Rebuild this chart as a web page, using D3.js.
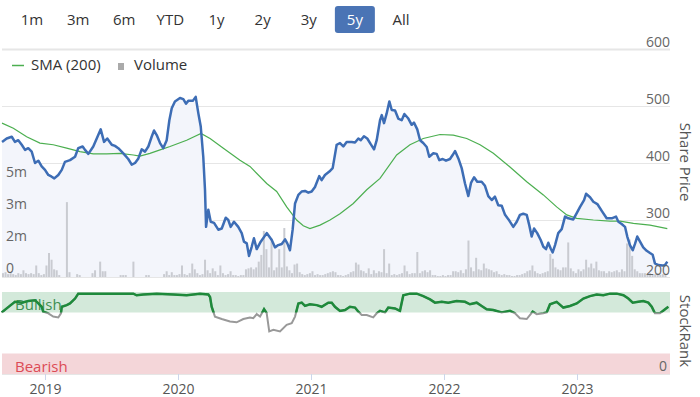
<!DOCTYPE html>
<html>
<head>
<meta charset="utf-8">
<script src="https://cdnjs.cloudflare.com/ajax/libs/d3/7.8.5/d3.min.js"></script>
<style>
  body { margin: 0; background: #fff; }
  text { font-family: "Open Sans", sans-serif; }
</style>
</head>
<body>
<div id="chart"></div>
<script>
var svgWidth = 700;
var svgHeight = 397;

// range buttons
var buttons = ["1m", "3m", "6m", "YTD", "1y", "2y", "3y", "5y", "All"];
var activeButton = "5y";

// x axis years
var years = [2019, 2020, 2021, 2022, 2023];

// share price (decimal year, pence)
var priceT = [2018.677,2018.712,2018.750,2018.774,2018.799,2018.825,2018.850,2018.874,2018.900,2018.925,2018.950,2018.975,
  2019.000,2019.025,2019.050,2019.070,2019.100,2019.126,2019.150,2019.188,2019.226,2019.250,2019.283,2019.301,2019.326,
  2019.363,2019.389,2019.419,2019.444,2019.468,2019.502,2019.526,2019.551,2019.589,2019.626,2019.652,2019.677,2019.702,
  2019.727,2019.752,2019.777,2019.802,2019.820,2019.840,2019.865,2019.889,2019.915,2019.935,2019.953,2019.977,
  2020.015,2020.040,2020.060,2020.077,2020.111,2020.133,2020.153,2020.171,2020.190,2020.203,2020.211,2020.228,2020.246,
  2020.271,2020.303,2020.329,2020.359,2020.378,2020.396,2020.421,2020.453,2020.479,2020.496,2020.517,2020.534,2020.554,
  2020.571,2020.592,2020.622,2020.667,2020.705,2020.729,2020.754,2020.780,2020.805,2020.822,2020.842,2020.862,2020.880,
  2020.905,2020.930,2020.955,2020.980,
  2021.005,2021.030,2021.062,2021.080,2021.105,2021.138,2021.163,2021.193,2021.218,2021.243,2021.268,2021.306,2021.331,
  2021.356,2021.374,2021.398,2021.423,2021.449,2021.474,2021.494,2021.519,2021.532,2021.549,2021.569,2021.589,2021.607,
  2021.632,2021.656,2021.682,2021.702,2021.732,2021.757,2021.774,2021.799,2021.820,2021.844,2021.870,2021.889,2021.920,
  2021.945,2021.965,2021.990,
  2022.015,2022.045,2022.065,2022.083,2022.108,2022.133,2022.158,2022.183,2022.203,2022.226,2022.250,2022.283,2022.308,
  2022.333,2022.359,2022.383,2022.408,2022.434,2022.459,2022.491,2022.521,2022.547,2022.571,2022.596,2022.622,2022.641,
  2022.659,2022.677,2022.701,2022.727,2022.747,2022.767,2022.784,2022.802,2022.817,2022.835,2022.859,2022.885,2022.910,
  2022.935,2022.972,2022.998,
  2023.023,2023.053,2023.068,2023.098,2023.123,2023.153,2023.186,2023.223,2023.261,2023.293,2023.311,2023.336,2023.361,
  2023.378,2023.398,2023.419,2023.436,2023.453,2023.474,2023.498,2023.524,2023.549,2023.569,2023.586,2023.611,2023.644,
  2023.662,2023.679];
var priceV = [437,443,446,437,440,432,423,426,420,400,404,394,
  388,379,376,373,379,388,402,405,411,426,429,423,416,
  429,443,459,437,443,432,430,426,417,407,397,400,408,
  424,420,429,446,457,449,435,426,440,475,496,508,
  514,512,504,509,509,516,487,464,411,353,288,318,297,
  295,283,285,304,300,288,297,288,277,262,259,237,253,
  268,249,262,277,265,252,256,258,266,259,247,283,329,
  344,350,351,348,
  350,358,377,370,379,385,391,432,435,429,437,437,436,
  443,440,447,443,433,424,440,475,484,470,487,508,493,
  492,478,475,486,478,467,471,459,440,435,428,411,417,
  416,405,407,
  404,407,414,421,408,391,364,342,365,375,367,367,360,
  342,335,341,326,325,309,299,288,297,309,311,309,291,
  271,285,277,265,253,249,260,250,243,256,277,284,306,
  303,301,312,
  323,335,346,340,332,328,316,303,303,306,297,293,288,
  271,256,247,258,271,262,252,246,242,239,224,221,220,
  221,227];

// SMA (200)
var smaT = [2018.677,2018.762,2018.862,2018.962,2019.062,2019.163,2019.263,2019.363,2019.464,2019.564,2019.664,2019.714,
  2019.789,2019.865,2019.940,2020.065,2020.173,2020.241,2020.341,2020.466,2020.541,2020.667,2020.742,2020.817,2020.892,
  2020.942,2020.992,2021.068,2021.143,2021.218,2021.318,2021.419,2021.519,2021.644,2021.744,2021.844,2021.970,2022.070,
  2022.171,2022.271,2022.371,2022.496,2022.622,2022.747,2022.847,2022.923,2022.998,2023.123,2023.248,2023.323,2023.424,
  2023.549,2023.679];
var smaV = [470,461,446,435,432,426,420,416,416,417,414,412,
  417,423,429,440,452,443,426,405,394,364,350,323,300,
  290,285,291,300,311,329,353,373,414,432,443,450,449,
  443,432,417,393,367,344,323,309,303,300,298,298,294,
  291,285];

// weekly volume (millions), first bar at volStart
var volStart = 2018.684;
var volM = [0.2,0.25,0.15,0.2,0.15,0.1,0.2,0.15,0.35,0.2,
  0.15,0.2,0.15,0.6,0.2,0.1,0.15,0.6,1.25,0.9,
  0.4,0.35,0.1,0,0,3.9,0.25,0,0,0.15,
  0.1,0,0,0,0,0.2,0.35,0,0.8,0.3,
  0.3,0,0,0,0,0,0.1,0.1,0.1,0,
  0,0.8,0,0,0,0,0.1,0.1,0,0,
  0,0,0,0.15,0.3,0.1,0.25,0.1,0.1,0.15,
  0.6,0.15,0.1,0.2,0.7,0.4,0.2,0.1,0.15,0.9,
  0.35,0.2,0.45,0.3,0.1,0.6,0.2,0.1,0.15,0.3,
  0.1,0.1,0.05,0.1,0.1,0.4,0.45,0.5,0.4,0.5,
  0.8,1.15,2.4,1.45,0.5,2.0,0.35,0.5,1.45,0.5,
  2.55,0.55,0.35,0.2,0.65,0.7,0.25,0.15,0.1,0.15,
  0.2,0.3,0.1,0.15,0.1,0.1,0.15,0.2,0.25,0.3,
  0.25,0.1,0.1,0.05,0.1,0.15,0.25,0.3,0.75,0.65,
  0.35,0.3,0.2,0.45,0.15,0.35,0.2,0.3,0.25,1.45,
  0.2,0.7,0.1,0.15,0.1,0.15,0.2,0.6,0.3,0.15,
  0.2,0.2,1.3,0.2,0.3,0.35,0.25,0.35,0.1,0.1,
  0.05,0.05,0.1,0.05,0.1,0.1,0.3,0.3,0.25,0.35,
  0.2,0.4,1.9,0.5,0.3,1.0,0.4,0.35,0.7,0.45,
  0.4,0.35,0.25,0.3,0.15,0.1,0.15,0.1,0.1,0.05,
  0.05,0.1,0.1,0.15,0.2,0.3,0.35,0.6,0.3,0.2,
  0.15,0.2,0.25,0.3,1.2,0.95,0.5,0.4,0.35,0.5,
  0.5,1.8,0.45,0.3,0.2,0.4,0.3,0.4,0.9,0.5,
  0.7,0.45,0.8,0.35,0.3,0.3,0.2,0.3,0.25,0.3,
  0.35,0.25,0.4,0.3,1.75,1.95,1.1,0.4,0.3,0.2,
  0.2,0.2,0.15,0.2,0.1,0.15,0.2,0.1,0.15,0.1];
var volTicks = [0, 5 / 3, 10 / 3, 5];

// StockRank
var rankT = [2018.674,2018.712,2018.774,2018.825,2018.874,2018.925,2018.950,2018.975,2018.987,2019.025,2019.062,2019.100,
  2019.120,2019.126,2019.163,2019.188,2019.226,2019.250,2019.314,2019.414,2019.539,2019.664,2019.689,2019.739,2019.840,
  2019.965,2020.065,2020.165,2020.228,2020.241,2020.253,2020.278,2020.329,2020.391,2020.441,2020.491,2020.541,2020.566,
  2020.592,2020.617,2020.647,2020.667,2020.686,2020.717,2020.767,2020.817,2020.855,2020.880,2020.905,2020.930,2020.955,
  2020.992,2021.043,2021.080,2021.130,2021.156,2021.180,2021.218,2021.256,2021.293,2021.331,2021.356,2021.381,2021.419,
  2021.468,2021.494,2021.519,2021.556,2021.581,2021.632,2021.669,2021.694,2021.744,2021.795,2021.844,2021.895,2021.932,
  2021.983,2022.032,2022.095,2022.158,2022.195,2022.246,2022.283,2022.321,2022.371,2022.434,2022.496,2022.534,2022.571,
  2022.622,2022.667,2022.697,2022.747,2022.772,2022.797,2022.847,2022.897,2022.947,2022.998,2023.048,2023.098,2023.148,
  2023.198,2023.248,2023.299,2023.349,2023.386,2023.419,2023.461,2023.498,2023.536,2023.562,2023.586,2023.624,2023.662,
  2023.687];
var rankV = [75,80,88,87,89,90,86,82,76,74,70,69,
  74,82,84,86,92,98,98,98,98,98,96,97,98,
  97,96,98,97,94,82,70,67,64,63,67,69,68,
  73,70,79,74,52,54,52,60,62,70,86,87,83,
  85,84,82,87,87,82,77,78,82,81,76,72,72,
  69,74,77,75,81,80,77,96,98,98,95,91,87,
  88,87,89,88,85,87,83,79,78,75,77,74,68,
  67,76,73,74,75,85,88,81,83,86,92,95,97,
  96,98,98,96,92,87,88,89,87,82,74,74,79,
  82];
var bullishFrom = 75;
var bearishTo = 25;

var plotLeft = 2, plotRight = 670;

var svg = d3.select("#chart")
  .append("svg")
  .attr("width", svgWidth)
  .attr("height", svgHeight);

// ---- range selector
var btnX = d3.scalePoint().domain(buttons).range([32, 401]);

svg.append("rect")
  .attr("x", btnX(activeButton) - 20)
  .attr("y", 6)
  .attr("width", 40)
  .attr("height", 27)
  .attr("rx", 3)
  .attr("fill", "#4a74b5");

svg.selectAll(".btn")
  .data(buttons)
  .enter()
  .append("text")
  .attr("x", d => btnX(d))
  .attr("y", 25)
  .attr("text-anchor", "middle")
  .attr("font-size", "15px")
  .attr("fill", d => d == activeButton ? "#fff" : "#333")
  .text(d => d);

// ---- scales
var x = d3.scaleLinear().domain([2019, 2024]).range([45, 710]);
var yPrice = d3.scaleLinear().domain([200, 600]).range([277, 49]);
var yVol = d3.scaleLinear().domain([0, 5]).range([277, 181]);
var yRank = d3.scaleLinear().domain([0, 100]).range([374, 292]);

// price gridlines
svg.selectAll(".grid")
  .data(yPrice.ticks(4))
  .enter()
  .append("line")
  .attr("x1", plotLeft)
  .attr("x2", plotRight)
  .attr("y1", d => Math.round(yPrice(d)) + 0.5)
  .attr("y2", d => Math.round(yPrice(d)) + 0.5)
  .attr("stroke", "#e6e6e6")
  .attr("stroke-width", d => d == 600 ? 2 : 1);

// price area
var area = d3.area()
  .x((d, i) => x(priceT[i]))
  .y0(yPrice(200))
  .y1(d => yPrice(d));

svg.append("path")
  .datum(priceV)
  .attr("d", area)
  .attr("fill", "#f3f5fb");

// volume bars
svg.selectAll(".vol")
  .data(volM)
  .enter()
  .append("rect")
  .attr("x", (d, i) => x(volStart + i / 52) - 1)
  .attr("y", d => yVol(d))
  .attr("width", 2)
  .attr("height", d => yVol(0) - yVol(d))
  .attr("fill", "#c9cbd1");

// volume labels
svg.selectAll(".volLabel")
  .data(volTicks)
  .enter()
  .append("text")
  .attr("x", 6)
  .attr("y", d => yVol(d) - 4)
  .attr("font-size", "14px")
  .attr("fill", "#666")
  .text(d => d == 0 ? "0" : Math.round(d) + "m");

// SMA
var line = d3.line()
  .x(d => x(d[0]))
  .y(d => yPrice(d[1]));

svg.append("path")
  .datum(d3.zip(smaT, smaV))
  .attr("d", line)
  .attr("fill", "none")
  .attr("stroke", "#4caf50")
  .attr("stroke-width", 1.2);

// price line
svg.append("path")
  .datum(d3.zip(priceT, priceV))
  .attr("d", line)
  .attr("fill", "none")
  .attr("stroke", "#3d6db5")
  .attr("stroke-width", 2.5)
  .attr("stroke-linejoin", "round");

// price axis labels
svg.selectAll(".priceLabel")
  .data(yPrice.ticks(4))
  .enter()
  .append("text")
  .attr("x", plotRight)
  .attr("y", d => yPrice(d) - 2)
  .attr("text-anchor", "end")
  .attr("font-size", "14px")
  .attr("fill", "#666")
  .text(d => d);

// legend
svg.append("line")
  .attr("x1", 12).attr("x2", 24)
  .attr("y1", 65.5).attr("y2", 65.5)
  .attr("stroke", "#4caf50")
  .attr("stroke-width", 1.5);
svg.append("text")
  .attr("x", 31).attr("y", 70)
  .attr("font-size", "15px")
  .attr("fill", "#333")
  .text("SMA (200)");
svg.append("rect")
  .attr("x", 118).attr("y", 63)
  .attr("width", 6).attr("height", 7)
  .attr("fill", "#aaa");
svg.append("text")
  .attr("x", 134).attr("y", 70)
  .attr("font-size", "15px")
  .attr("fill", "#333")
  .text("Volume");

// ---- StockRank panel
svg.append("line")
  .attr("x1", plotLeft).attr("x2", plotRight)
  .attr("y1", yRank(100) + 0.5).attr("y2", yRank(100) + 0.5)
  .attr("stroke", "#e6e6e6");

svg.append("rect")
  .attr("x", plotLeft)
  .attr("y", yRank(100))
  .attr("width", plotRight - plotLeft)
  .attr("height", yRank(bullishFrom) - yRank(100))
  .attr("fill", "#d3e9da");

svg.append("rect")
  .attr("x", plotLeft)
  .attr("y", yRank(bearishTo))
  .attr("width", plotRight - plotLeft)
  .attr("height", yRank(0) - yRank(bearishTo))
  .attr("fill", "#f4d6d9");

svg.append("text")
  .attr("x", 15).attr("y", 310)
  .attr("font-size", "15px")
  .attr("fill", "#3f8f52")
  .text("Bullish");

svg.append("text")
  .attr("x", 15).attr("y", 372)
  .attr("font-size", "15px")
  .attr("fill", "#dc4b55")
  .text("Bearish");

svg.append("defs").append("clipPath")
  .attr("id", "bullClip")
  .append("rect")
  .attr("x", 0).attr("y", 0)
  .attr("width", svgWidth)
  .attr("height", yRank(bullishFrom));

var rankLine = d3.line()
  .x(d => x(d[0]))
  .y(d => yRank(d[1]));

svg.append("path")
  .datum(d3.zip(rankT, rankV))
  .attr("d", rankLine)
  .attr("fill", "none")
  .attr("stroke", "#999")
  .attr("stroke-width", 2);

svg.append("path")
  .datum(d3.zip(rankT, rankV))
  .attr("d", rankLine)
  .attr("fill", "none")
  .attr("stroke", "#1e8a3b")
  .attr("stroke-width", 2.5)
  .attr("clip-path", "url(#bullClip)");

svg.append("text")
  .attr("x", 667)
  .attr("y", yRank(0) - 3)
  .attr("text-anchor", "end")
  .attr("font-size", "14px")
  .attr("fill", "#666")
  .text("0");

// x axis
var xAxis = d3.axisBottom(x)
  .tickValues(years)
  .tickFormat(d3.format("d"))
  .tickSize(6)
  .tickPadding(3);

var gx = svg.append("g")
  .attr("transform", `translate(0, ${yRank(0)})`)
  .call(xAxis);
gx.select(".domain")
  .attr("d", `M${plotLeft},0.5H${plotRight}`)
  .attr("stroke", "#e6e6e6");
gx.selectAll(".tick line").attr("stroke", "#ccd6eb");
gx.selectAll(".tick text")
  .attr("font-family", "Open Sans, sans-serif")
  .attr("font-size", "14px")
  .attr("fill", "#555")
  .attr("dy", "0.78em");

// right titles
svg.append("text")
  .attr("transform", "translate(680, 162) rotate(90)")
  .attr("text-anchor", "middle")
  .attr("font-size", "15px")
  .attr("fill", "#555")
  .text("Share Price");

svg.append("text")
  .attr("transform", "translate(680, 331) rotate(90)")
  .attr("text-anchor", "middle")
  .attr("font-size", "15px")
  .attr("fill", "#555")
  .text("StockRank");
</script>
</body>
</html>
